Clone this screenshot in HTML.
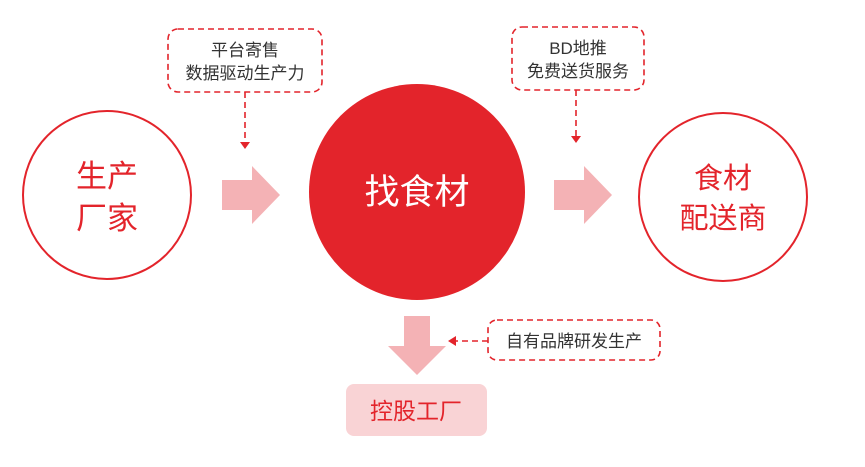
<!DOCTYPE html>
<html><head><meta charset="utf-8"><style>
body{margin:0;background:#fff;width:865px;height:462px;overflow:hidden}
text{font-family:"Liberation Sans","Noto Sans CJK SC",sans-serif}
</style></head><body>
<svg width="865" height="462" viewBox="0 0 865 462">
<circle cx="107" cy="195" r="84" fill="#fff" stroke="#e3242b" stroke-width="2"/>
<text x="107" y="187" font-size="31" fill="#e3242b" text-anchor="middle">生产</text>
<text x="107" y="229" font-size="31" fill="#e3242b" text-anchor="middle">厂家</text>
<circle cx="417" cy="192" r="108" fill="#e3242b"/>
<text x="417" y="204" font-size="35" fill="#fff" text-anchor="middle">找食材</text>
<circle cx="723" cy="197" r="84" fill="#fff" stroke="#e3242b" stroke-width="2"/>
<text x="723" y="188" font-size="29" fill="#e3242b" text-anchor="middle">食材</text>
<text x="723" y="228" font-size="29" fill="#e3242b" text-anchor="middle">配送商</text>
<polygon points="222,180 252,180 252,166 280,195 252,224 252,210 222,210" fill="#f4b2b5"/>
<polygon points="554,180 584,180 584,166 612,195 584,224 584,210 554,210" fill="#f4b2b5"/>
<polygon points="404,316 430,316 430,346 446,346 417,375 388,346 404,346" fill="#f4b2b5"/>
<rect x="346" y="384" width="141" height="52" rx="8" fill="#f9d3d5"/>
<text x="416" y="419" font-size="23" fill="#e3242b" text-anchor="middle">控股工厂</text>
<g fill="none" stroke="#e3242b" stroke-width="1.6" stroke-dasharray="6,4">
<rect x="168" y="29" width="154" height="63" rx="10"/>
<line x1="245" y1="92" x2="245" y2="142"/>
<rect x="512" y="27" width="132" height="63" rx="10"/>
<line x1="576" y1="90" x2="576" y2="136"/>
<rect x="488" y="320" width="172" height="40" rx="9"/>
<line x1="488" y1="341" x2="456" y2="341"/>
</g>
<g fill="#e3242b">
<polygon points="240,142 250,142 245,149"/>
<polygon points="571,136 581,136 576,143"/>
<polygon points="456,336 456,346 448,341"/>
</g>
<g font-size="17" fill="#333" text-anchor="middle">
<text x="245" y="56">平台寄售</text>
<text x="245" y="79">数据驱动生产力</text>
<text x="578" y="54">BD地推</text>
<text x="578" y="77">免费送货服务</text>
<text x="574" y="347">自有品牌研发生产</text>
</g>
</svg>
</body></html>
